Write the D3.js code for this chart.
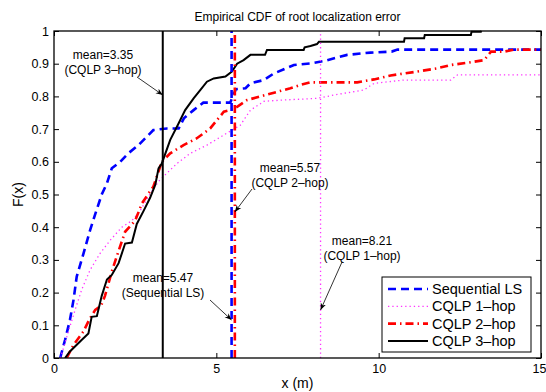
<!DOCTYPE html>
<html>
<head>
<meta charset="utf-8">
<script src="https://cdn.jsdelivr.net/npm/d3@7"></script>
<style>
body { margin: 0; background: #fff; }
text { font-family: "Liberation Sans", Arial, Helvetica, sans-serif; fill: #000; }
</style>
</head>
<body>
<svg id="chart" width="546" height="392"></svg>
<script>
// ---- data ----
const seriesNames = ["Sequential LS", "CQLP 1\u2013hop", "CQLP 2\u2013hop", "CQLP 3\u2013hop"];

const seqX = [0.19,0.34,0.49,0.6,0.7,0.91,1.11,1.27,1.47,1.63,1.78,2.04,2.29,2.6,2.86,3.06,3.48,3.84,4.0,4.3,4.6,5.43,5.6,5.9,6.05,6.46,6.77,7.08,7.39,7.9,8.31,9.03,9.75,10.4,10.58,15];
const seqF = [0,0.055,0.116,0.177,0.249,0.32,0.39,0.44,0.5,0.534,0.58,0.6,0.626,0.651,0.677,0.697,0.702,0.702,0.733,0.758,0.781,0.781,0.822,0.825,0.84,0.85,0.87,0.883,0.896,0.901,0.908,0.927,0.934,0.937,0.943,0.943];

const hop1X = [0.2,0.35,0.49,0.65,0.85,1.11,1.42,1.73,2.09,2.4,2.65,2.95,3.22,3.37,3.79,4.2,4.71,5.23,5.74,6.05,6.36,6.46,7.08,8.1,8.62,9.55,9.86,10.78,12.22,12.43,15];
const hop1F = [0,0.05,0.096,0.147,0.208,0.269,0.32,0.36,0.40,0.42,0.45,0.5,0.54,0.555,0.595,0.626,0.651,0.682,0.712,0.758,0.778,0.785,0.789,0.794,0.804,0.82,0.84,0.85,0.85,0.866,0.866];

const hop2X = [0.39,0.6,0.9,1.1,1.27,1.45,1.57,1.78,1.93,2.19,2.5,2.71,2.96,3.06,3.32,3.58,3.99,4.40,4.81,5.23,5.43,5.64,5.95,6.36,6.87,7.28,7.59,7.9,9.34,9.86,10.37,11.19,11.81,12.22,12.74,13.25,13.46,13.87,14.17,15];
const hop2F = [0,0.04,0.08,0.12,0.147,0.16,0.19,0.264,0.31,0.386,0.42,0.473,0.51,0.524,0.60,0.626,0.651,0.672,0.702,0.753,0.758,0.768,0.789,0.80,0.814,0.825,0.835,0.843,0.843,0.852,0.864,0.876,0.886,0.896,0.903,0.911,0.937,0.937,0.943,0.943];

const hop3X = [0.34,0.49,0.85,1.06,1.16,1.32,1.47,1.63,1.78,1.99,2.19,2.40,2.55,2.76,2.96,3.12,3.22,3.32,3.58,3.84,4.04,4.30,4.51,4.71,4.92,5.28,5.48,5.64,5.84,6.05,6.50,6.56,7.69,7.72,7.9,8.1,8.16,10.78,10.8,11.4,11.42,12.84,12.86,13.15,13.17];
const hop3F = [0,0.02,0.055,0.075,0.126,0.128,0.19,0.24,0.254,0.29,0.35,0.353,0.41,0.45,0.49,0.53,0.58,0.595,0.667,0.718,0.758,0.794,0.82,0.845,0.855,0.861,0.876,0.9,0.911,0.927,0.927,0.942,0.942,0.95,0.954,0.96,0.967,0.967,0.978,0.978,0.988,0.988,0.998,0.998,1.0];

const meanValues = [5.47, 8.21, 5.57, 3.35];
const meanTexts = ["mean=5.47", "mean=8.21", "mean=5.57", "mean=3.35"];
const meanNotes = ["(Sequential LS)", "(CQLP 1\u2013hop)", "(CQLP 2\u2013hop)", "(CQLP 3\u2013hop)"];

const xTicks = [0, 5, 10, 15];
const yTicks = [0, 0.1, 0.2, 0.3, 0.4, 0.5, 0.6, 0.7, 0.8, 0.9, 1];

// ---- styles ----
const styles = [
    {color: "#0000ff", width: 2.6, dash: "8,5"},
    {color: "#ff33ff", width: 1.3, dash: "1.3,3"},
    {color: "#ff0000", width: 2.6, dash: "8,4,1.5,4"},
    {color: "#000000", width: 2, dash: null}
];
const series = [
    {xs: seqX, fs: seqF},
    {xs: hop1X, fs: hop1F},
    {xs: hop2X, fs: hop2F},
    {xs: hop3X, fs: hop3F}
];

// annotation layout: text centre, arrow start, arrow tip y (tip x = the mean line)
const annoLayout = [
    {tx: 163, ty: 278, ax: 210, ay: 300, tipY: 320},
    {tx: 362, ty: 241, ax: 342, ay: 262, tipY: 310},
    {tx: 290, ty: 168, ax: 252, ay: 189, tipY: 212},
    {tx: 103, ty: 55, ax: 137, ay: 77, tipY: 95}
];

const plotLeft = 54, plotRight = 541, plotTop = 31, plotBottom = 358;

const svg = d3.select("#chart");

const x = d3.scaleLinear().domain([0, 15]).range([plotLeft, plotRight]);
const y = d3.scaleLinear().domain([0, 1]).range([plotBottom, plotTop]);

const defs = svg.append("defs");
defs.append("clipPath").attr("id", "plotClip")
    .append("rect")
    .attr("x", plotLeft).attr("y", plotTop - 2)
    .attr("width", plotRight - plotLeft).attr("height", plotBottom - plotTop + 2);

defs.append("marker")
    .attr("id", "arrowHead")
    .attr("viewBox", "0 0 10 10")
    .attr("refX", 10).attr("refY", 5)
    .attr("markerWidth", 7).attr("markerHeight", 7)
    .attr("markerUnits", "userSpaceOnUse")
    .attr("orient", "auto")
    .append("path")
    .attr("d", "M0,1 L10,5 L0,9 L3,5 z")
    .attr("fill", "#000");

// title and labels
svg.append("text")
    .attr("x", (plotLeft + plotRight) / 2).attr("y", 21)
    .attr("text-anchor", "middle")
    .style("font-size", "12px")
    .text("Empirical CDF of root localization error");

svg.append("text")
    .attr("x", (plotLeft + plotRight) / 2).attr("y", 388)
    .attr("text-anchor", "middle")
    .style("font-size", "14px")
    .text("x (m)");

svg.append("text")
    .attr("transform", `translate(23,${(plotTop + plotBottom) / 2}) rotate(-90)`)
    .attr("text-anchor", "middle")
    .style("font-size", "14px")
    .text("F(x)");

// axes, ticks inward like matlab
const fmt = d3.format("~g");
const axisB = svg.append("g").attr("transform", `translate(0,${plotBottom})`)
    .call(d3.axisBottom(x).tickValues(xTicks).tickSize(-5).tickSizeOuter(0).tickPadding(6).tickFormat(fmt));
const axisL = svg.append("g").attr("transform", `translate(${plotLeft},0)`)
    .call(d3.axisLeft(y).tickValues(yTicks).tickSize(-5).tickSizeOuter(0).tickPadding(5).tickFormat(fmt));
const axisT = svg.append("g").attr("transform", `translate(0,${plotTop})`)
    .call(d3.axisTop(x).tickValues(xTicks).tickSize(-5).tickSizeOuter(0).tickFormat(""));
const axisR = svg.append("g").attr("transform", `translate(${plotRight},0)`)
    .call(d3.axisRight(y).tickValues(yTicks).tickSize(-5).tickSizeOuter(0).tickFormat(""));

[axisB, axisL, axisT, axisR].forEach(g => {
    g.select(".domain").remove();
    g.selectAll(".tick line").attr("stroke", "#000").attr("stroke-width", 1);
    g.selectAll(".tick text")
        .style("font-size", "12.5px")
        .style("font-family", "'Liberation Sans', Arial, sans-serif")
        .attr("fill", "#000");
});
// last x label sits at the page edge, keep it inside
axisB.selectAll(".tick text").filter(d => d === 15)
    .attr("text-anchor", "end").attr("dx", 5);

// curves
const plot = svg.append("g").attr("clip-path", "url(#plotClip)");
const line = d3.line().x(d => x(d[0])).y(d => y(d[1]));

series.forEach((s, i) => {
    const pts = s.xs.map((v, k) => [v, s.fs[k]]);
    plot.append("path")
        .datum(pts)
        .attr("d", line)
        .attr("fill", "none")
        .attr("stroke", styles[i].color)
        .attr("stroke-width", styles[i].width)
        .attr("stroke-dasharray", styles[i].dash)
        .attr("stroke-linejoin", "miter");
});

// mean lines
meanValues.forEach((m, i) => {
    plot.append("line")
        .attr("x1", x(m)).attr("x2", x(m))
        .attr("y1", y(0)).attr("y2", y(1))
        .attr("stroke", styles[i].color)
        .attr("stroke-width", styles[i].width)
        .attr("stroke-dasharray", styles[i].dash);
});

// annotations
meanValues.forEach((m, i) => {
    const a = annoLayout[i];
    const g = svg.append("g");
    g.append("text")
        .attr("x", a.tx).attr("y", a.ty)
        .attr("text-anchor", "middle").attr("dominant-baseline", "central")
        .style("font-size", "12px")
        .text(meanTexts[i]);
    g.append("text")
        .attr("x", a.tx).attr("y", a.ty + 14.5)
        .attr("text-anchor", "middle").attr("dominant-baseline", "central")
        .style("font-size", "12px")
        .text(meanNotes[i]);
    g.append("line")
        .attr("x1", a.ax).attr("y1", a.ay)
        .attr("x2", x(m)).attr("y2", a.tipY)
        .attr("stroke", "#000").attr("stroke-width", 0.8)
        .attr("marker-end", "url(#arrowHead)");
});

// frame
svg.append("rect")
    .attr("x", plotLeft).attr("y", plotTop)
    .attr("width", plotRight - plotLeft).attr("height", plotBottom - plotTop)
    .attr("fill", "none").attr("stroke", "#000").attr("stroke-width", 1.3);

// legend
const legend = svg.append("g");
legend.append("rect")
    .attr("x", 382).attr("y", 277).attr("width", 149).attr("height", 75)
    .attr("fill", "#fff").attr("stroke", "#000").attr("stroke-width", 1);

const legY = d3.scalePoint().domain(seriesNames).range([289, 341]);
seriesNames.forEach((name, i) => {
    legend.append("line")
        .attr("x1", 388).attr("x2", 428)
        .attr("y1", legY(name)).attr("y2", legY(name))
        .attr("stroke", styles[i].color)
        .attr("stroke-width", styles[i].width)
        .attr("stroke-dasharray", styles[i].dash);
    legend.append("text")
        .attr("x", 432).attr("y", legY(name))
        .attr("dominant-baseline", "central")
        .style("font-size", "14.5px")
        .text(name);
});
</script>
</body>
</html>
